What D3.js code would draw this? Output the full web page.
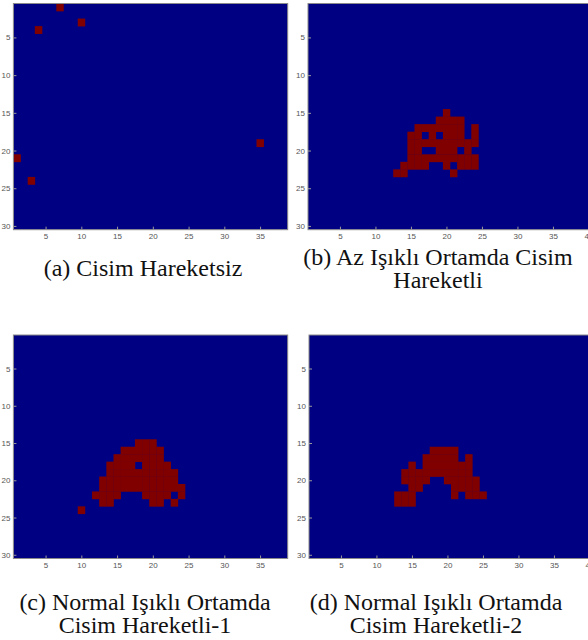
<!DOCTYPE html>
<html>
<head>
<meta charset="utf-8">
<script src="https://cdn.jsdelivr.net/npm/d3@7"></script>
<style>
  body { margin: 0; background: #fff; }
  svg { display: block; }
</style>
</head>
<body>
<script>
// tick labels
const xTicksLeft = [5, 10, 15, 20, 25, 30, 35];
const xTicksRight = [5, 10, 15, 20, 25, 30, 35, 40];
const yTicks = [5, 10, 15, 20, 25, 30];
const nCols = 40, nRows = 30;

// cells with value 1 (dark red): [row, [columns]]
const cellsA = [
  [1, [7]], [3, [10]], [4, [4]], [19, [35]], [21, [1]], [24, [3]]
];
const cellsB = [
  [15, [20]],
  [16, [19, 20, 21, 22]],
  [17, [16, 17, 18, 19, 20, 21, 22, 24]],
  [18, [15, 16, 18, 20, 21, 22, 24]],
  [19, [15, 16, 17, 18, 19, 20, 21, 22, 23, 24]],
  [20, [15, 16, 19, 20, 21, 23]],
  [21, [15, 16, 17, 18, 19, 20, 21, 22, 23, 24]],
  [22, [14, 15, 16, 17, 20, 22, 23, 24]],
  [23, [13, 14, 21]]
];
const cellsC = [
  [15, [18, 19, 20]],
  [16, [16, 17, 18, 19, 20, 21]],
  [17, [15, 16, 17, 18, 19, 20, 21]],
  [18, [14, 15, 16, 17, 19, 20, 21, 22]],
  [19, [14, 15, 16, 17, 18, 19, 20, 21, 22, 23]],
  [20, [13, 14, 15, 16, 17, 18, 19, 20, 21, 22, 23]],
  [21, [13, 14, 15, 16, 17, 18, 19, 20, 21, 22, 23, 24]],
  [22, [12, 13, 14, 15, 19, 20, 21, 22, 24]],
  [23, [13, 14, 20, 21, 23]],
  [24, [10]]
];
const cellsD = [
  [16, [18, 19, 20, 21]],
  [17, [17, 18, 19, 20, 21, 23]],
  [18, [15, 17, 18, 19, 20, 21, 22, 23]],
  [19, [14, 15, 16, 17, 18, 19, 20, 21, 22, 23]],
  [20, [14, 15, 16, 17, 20, 21, 22, 23, 24]],
  [21, [15, 16, 21, 22, 23, 24]],
  [22, [13, 14, 15, 21, 23, 24, 25]],
  [23, [13, 14, 15]]
];

const captionA = ["(a) Cisim Hareketsiz"];
const captionB = ["(b) Az Işıklı Ortamda Cisim", "Hareketli"];
const captionC = ["(c) Normal Işıklı Ortamda", "Cisim Hareketli-1"];
const captionD = ["(d) Normal Işıklı Ortamda", "Cisim Hareketli-2"];

const width = 588, height = 640;
const color = d3.scaleOrdinal().domain([0, 1]).range(["#000083", "#800000"]);

const svg = d3.select("body").append("svg")
  .attr("width", width)
  .attr("height", height);

// layout of the four panels
const panels = [
  {id: "a", cells: cellsA, left: 13.4, right: 299.4, clip: 287.7, top: 3.5, bottom: 229.7,
   xt: xTicksLeft, cap: captionA, capX: 143, capY: 276},
  {id: "b", cells: cellsB, left: 308, right: 592, clip: 592, top: 3.5, bottom: 229.7,
   xt: xTicksRight, cap: captionB, capX: 438, capY: 265},
  {id: "c", cells: cellsC, left: 13.4, right: 299.4, clip: 287.7, top: 335, bottom: 558.5,
   xt: xTicksLeft, cap: captionC, capX: 145, capY: 610},
  {id: "d", cells: cellsD, left: 309, right: 593, clip: 593, top: 335, bottom: 558.5,
   xt: xTicksRight, cap: captionD, capX: 436, capY: 610}
];

panels.forEach(p => {
  var x = d3.scaleLinear().domain([0.5, nCols + 0.5]).range([p.left, p.right]);
  var y = d3.scaleLinear().domain([0.5, nRows + 0.5]).range([p.top, p.bottom]);

  var g = svg.append("g");

  g.append("clipPath").attr("id", "clip-" + p.id)
    .append("rect")
    .attr("x", p.left).attr("y", p.top)
    .attr("width", p.clip - p.left).attr("height", p.bottom - p.top);

  var plot = g.append("g").attr("clip-path", "url(#clip-" + p.id + ")");

  // background = value 0
  plot.append("rect")
    .attr("x", x(0.5)).attr("y", y(0.5))
    .attr("width", x(nCols + 0.5) - x(0.5))
    .attr("height", y(nRows + 0.5) - y(0.5))
    .attr("fill", color(0));

  var ones = [];
  p.cells.forEach(r => r[1].forEach(c => ones.push({row: r[0], col: c})));

  plot.selectAll("rect.cell")
    .data(ones)
    .join("rect")
    .attr("class", "cell")
    .attr("x", d => x(d.col - 0.5))
    .attr("y", d => y(d.row - 0.5))
    .attr("width", x(1.5) - x(0.5) + 0.3)
    .attr("height", y(1.5) - y(0.5) + 0.3)
    .attr("fill", color(1));

  // box
  g.append("rect")
    .attr("x", p.left).attr("y", p.top)
    .attr("width", p.clip - p.left).attr("height", p.bottom - p.top)
    .attr("fill", "none")
    .attr("stroke", "#8a8a8a")
    .attr("stroke-width", 1);

  // axes, MATLAB style ticks pointing in
  var xAxis = d3.axisBottom(x).tickValues(p.xt).tickSizeInner(-3).tickSizeOuter(0).tickPadding(4);
  var yAxis = d3.axisLeft(y).tickValues(yTicks).tickSizeInner(-3).tickSizeOuter(0).tickPadding(3);

  var gx = g.append("g").attr("transform", "translate(0," + p.bottom + ")").call(xAxis);
  var gy = g.append("g").attr("transform", "translate(" + p.left + ",0)").call(yAxis);

  [gx, gy].forEach(a => {
    a.select(".domain").remove();
    a.selectAll(".tick line").attr("stroke", "#9a9a9a");
    a.selectAll(".tick text")
      .attr("fill", "#555")
      .style("font-family", "'Liberation Sans', Arial, sans-serif")
      .style("font-size", "8px");
  });

  // caption
  var t = g.append("text")
    .attr("x", p.capX)
    .attr("y", p.capY)
    .attr("text-anchor", "middle")
    .style("font-family", "'Liberation Serif', 'Times New Roman', serif")
    .style("font-size", "24px")
    .attr("fill", "#111");
  p.cap.forEach((line, i) => {
    t.append("tspan").attr("x", p.capX).attr("dy", i === 0 ? 0 : 22.5).text(line);
  });
});
</script>
</body>
</html>
